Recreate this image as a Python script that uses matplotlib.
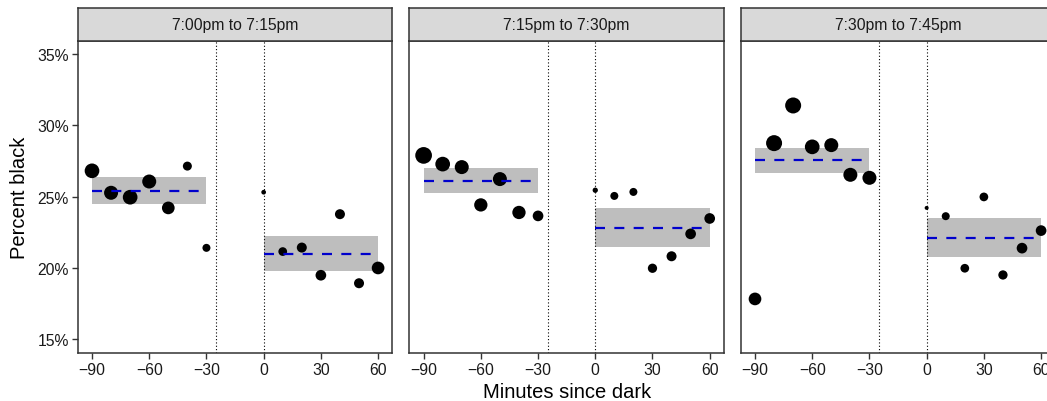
import numpy as np
import matplotlib.pyplot as plt

plt.rcParams['font.family'] = ['Liberation Sans', 'DejaVu Sans']

# facet titles
panels = ["7:00pm to 7:15pm", "7:15pm to 7:30pm", "7:30pm to 7:45pm"]

minutes = [-90, -80, -70, -60, -50, -40, -30, 0, 10, 20, 30, 40, 50, 60]

# percent black per 10 minute bin, one list per panel
pct_1 = [26.81, 25.27, 24.96, 26.06, 24.21, 27.14, 21.41,
         25.31, 21.15, 21.43, 19.49, 23.77, 18.93, 20.00]
pct_2 = [27.89, 27.28, 27.07, 24.42, 26.23, 23.89, 23.65,
         25.45, 25.05, 25.33, 19.98, 20.82, 22.39, 23.47]
pct_3 = [17.83, 28.75, 31.39, 28.49, 28.61, 26.53, 26.32,
         24.21, 23.63, 19.98, 24.98, 19.51, 21.39, 22.62]

# number of stops (drives point size)
stops_1 = [215, 196, 215, 196, 161, 81, 64, 22, 76, 100, 114, 100, 100, 161]
stops_2 = [279, 216, 196, 177, 196, 177, 114, 28, 64, 64, 86, 100, 114, 114]
stops_3 = [161, 256, 256, 216, 196, 196, 196, 16, 64, 76, 76, 86, 114, 114]

# before / after dark means with intervals: (mean, low, high)
before_1 = (25.41, 24.45, 26.37)
after_1 = (21.01, 19.82, 22.23)
before_2 = (26.11, 25.22, 27.00)
after_2 = (22.83, 21.46, 24.19)
before_3 = (27.58, 26.69, 28.42)
after_3 = (22.13, 20.75, 23.49)

pcts = [pct_1, pct_2, pct_3]
stops = [stops_1, stops_2, stops_3]
befores = [before_1, before_2, before_3]
afters = [after_1, after_2, after_3]

W, H = 1047, 402
fig = plt.figure(figsize=(W / 100, H / 100), dpi=100)

edge = '#333333'
lefts = [77.7, 409.3, 740.7]
pw = 314.7
top, bot = 41.7, 354
strip_top = 9.3

for k in range(3):
    x0 = lefts[k]
    ax = fig.add_axes([x0 / W, (H - bot) / H, pw / W, (bot - top) / H])
    st = fig.add_axes([x0 / W, (H - top) / H, pw / W, (top - strip_top) / H])
    st.set_facecolor('#D9D9D9')
    st.set_xticks([])
    st.set_yticks([])
    for s in st.spines.values():
        s.set_color(edge)
        s.set_linewidth(1.1)
    st.text(0.5, 0.5, panels[k], ha='center', va='center', fontsize=11.3,
            color='#1A1A1A', transform=st.transAxes)

    for seg, (xa, xb) in zip([befores[k], afters[k]], [(-90, -30), (0, 60)]):
        m, lo, hi = seg
        ax.fill_between([xa, xb], lo, hi, color='#BEBEBE', lw=0, zorder=1)
    ax.axvline(-25, color='black', lw=0.8, ls=(0, (1, 2)), zorder=2)
    ax.axvline(0, color='black', lw=0.8, ls=(0, (1, 2)), zorder=2)

    d = np.sqrt(np.array(stops[k], dtype=float))
    ax.scatter(minutes, pcts[k], s=(d * 0.72) ** 2, color='black',
               lw=0, zorder=3)

    for seg, (xa, xb) in zip([befores[k], afters[k]], [(-90, -30), (0, 60)]):
        m, lo, hi = seg
        ax.plot([xa, xb], [m, m], color='#0000CC', lw=1.6,
                dashes=(4.5, 4.2), zorder=4)

    ax.set_xlim(-97.5, 67.5)
    ax.set_ylim(14.04, 35.93)
    ax.set_xticks([-90, -60, -30, 0, 30, 60])
    ax.set_xticklabels(['\u221290', '\u221260', '\u221230', '0', '30', '60'])
    ax.set_yticks([15, 20, 25, 30, 35])
    ax.set_yticklabels(['15%', '20%', '25%', '30%', '35%'])
    ax.tick_params(length=4, width=1, color=edge, labelsize=11.3,
                   labelcolor='#1A1A1A', pad=2.5)
    if k > 0:
        ax.tick_params(axis='y', left=False, labelleft=False)
    for s in ax.spines.values():
        s.set_color(edge)
        s.set_linewidth(1.1)

fig.text(567 / W, 1 - 393 / H, 'Minutes since dark', ha='center', va='center',
         fontsize=14.5, color='black')
fig.text(20 / W, 1 - 198 / H, 'Percent black', ha='center', va='center',
         rotation=90, fontsize=14.5, color='black')

fig.savefig('out.png', dpi=100)
